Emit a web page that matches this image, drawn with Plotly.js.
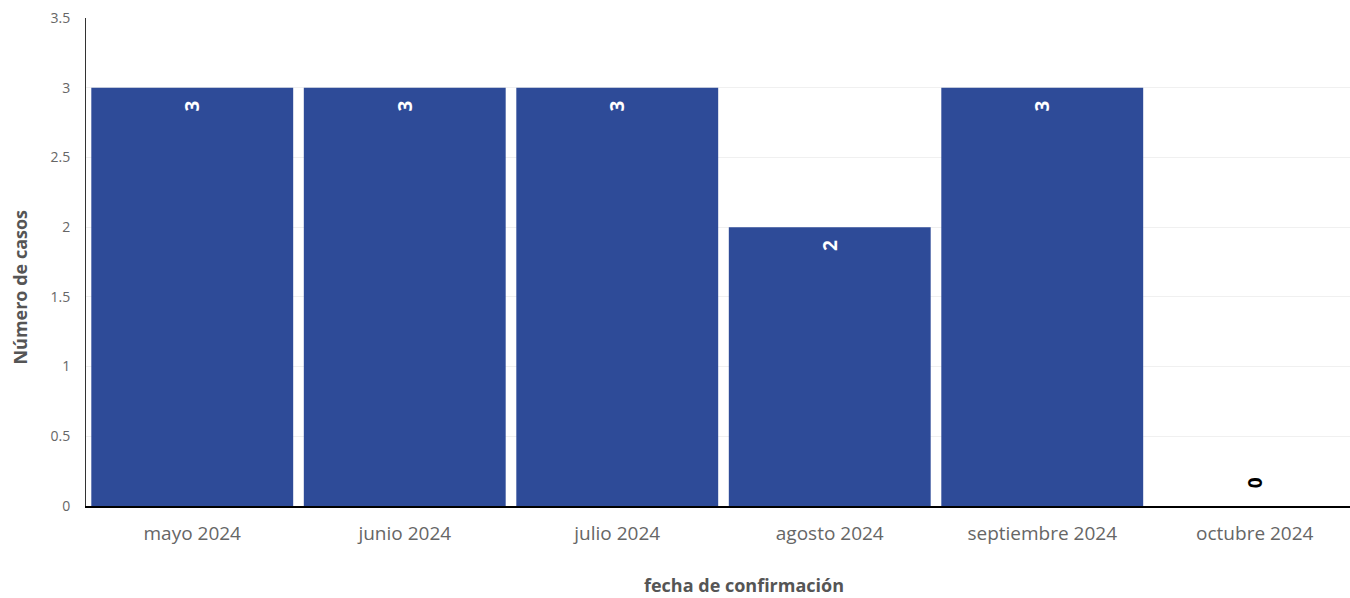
<!DOCTYPE html>
<html>
<head>
<meta charset="utf-8">
<script src="https://cdn.plot.ly/plotly-3.0.1.min.js"></script>
<style>
html,body{margin:0;padding:0;overflow:hidden;background:#fff;}
#chart{width:1361px;height:598px;}
</style>
</head>
<body>
<div id="chart"></div>
<script>
var categories = ["mayo 2024","junio 2024","julio 2024","agosto 2024","septiembre 2024","octubre 2024"];
var casos = [3,3,3,2,3,0];
var yTicks = [0,0.5,1,1.5,2,2.5,3,3.5];
var xTitle = "fecha de confirmación";
var yTitle = "Número de casos";

var positions = casos.map(function(v){ return v > 0 ? "inside" : "outside"; });
var templates = casos.map(function(v){ return v > 0 ? "%{y}\u00a0\u00a0" : "\u00a0\u00a0\u00a0%{y}"; });

var trace = {
  type: "bar",
  x: categories,
  y: casos,
  texttemplate: templates,
  textposition: positions,
  insidetextanchor: "end",
  textangle: -90,
  constraintext: "none",
  cliponaxis: false,
  marker: {color: "#2e4b98"},
  insidetextfont: {family: "Open Sans, sans-serif", size: 19, color: "#ffffff", weight: "bold"},
  outsidetextfont: {family: "Open Sans, sans-serif", size: 19, color: "#000000", weight: "bold"},
  hoverinfo: "x+y"
};

var layout = {
  width: 1361,
  height: 598,
  margin: {l: 86, r: 0, t: 18, b: 92},
  paper_bgcolor: "#ffffff",
  plot_bgcolor: "#ffffff",
  bargap: 0.05,
  showlegend: false,
  font: {family: "Open Sans, sans-serif", color: "#666666"},
  xaxis: {
    type: "category",
    showline: true,
    linecolor: "#000000",
    linewidth: 1.5,
    ticks: "",
    ticklabelstandoff: 10,
    tickfont: {size: 19, color: "#666666"}
  },
  yaxis: {
    range: [0, 3.5],
    tickvals: yTicks,
    ticktext: yTicks.map(String),
    showline: true,
    linecolor: "#333333",
    linewidth: 1,
    gridcolor: "#f0f0f0",
    zeroline: false,
    ticks: "",
    ticklabelstandoff: 12,
    tickfont: {size: 14, color: "#666666"}
  },
  annotations: [
    {text: xTitle, xref: "paper", yref: "paper", x: 0.516, y: -0.162, xanchor: "center", yanchor: "middle",
     showarrow: false, font: {family: "Open Sans, sans-serif", size: 18, color: "#555555", weight: "bold"}},
    {text: yTitle, xref: "paper", yref: "paper", x: -0.052, y: 0.449, xanchor: "center", yanchor: "middle",
     textangle: -90, showarrow: false, font: {family: "Open Sans, sans-serif", size: 18, color: "#555555", weight: "bold"}}
  ]
};

Plotly.newPlot("chart", [trace], layout, {displayModeBar: false, staticPlot: true});
</script>
</body>
</html>
